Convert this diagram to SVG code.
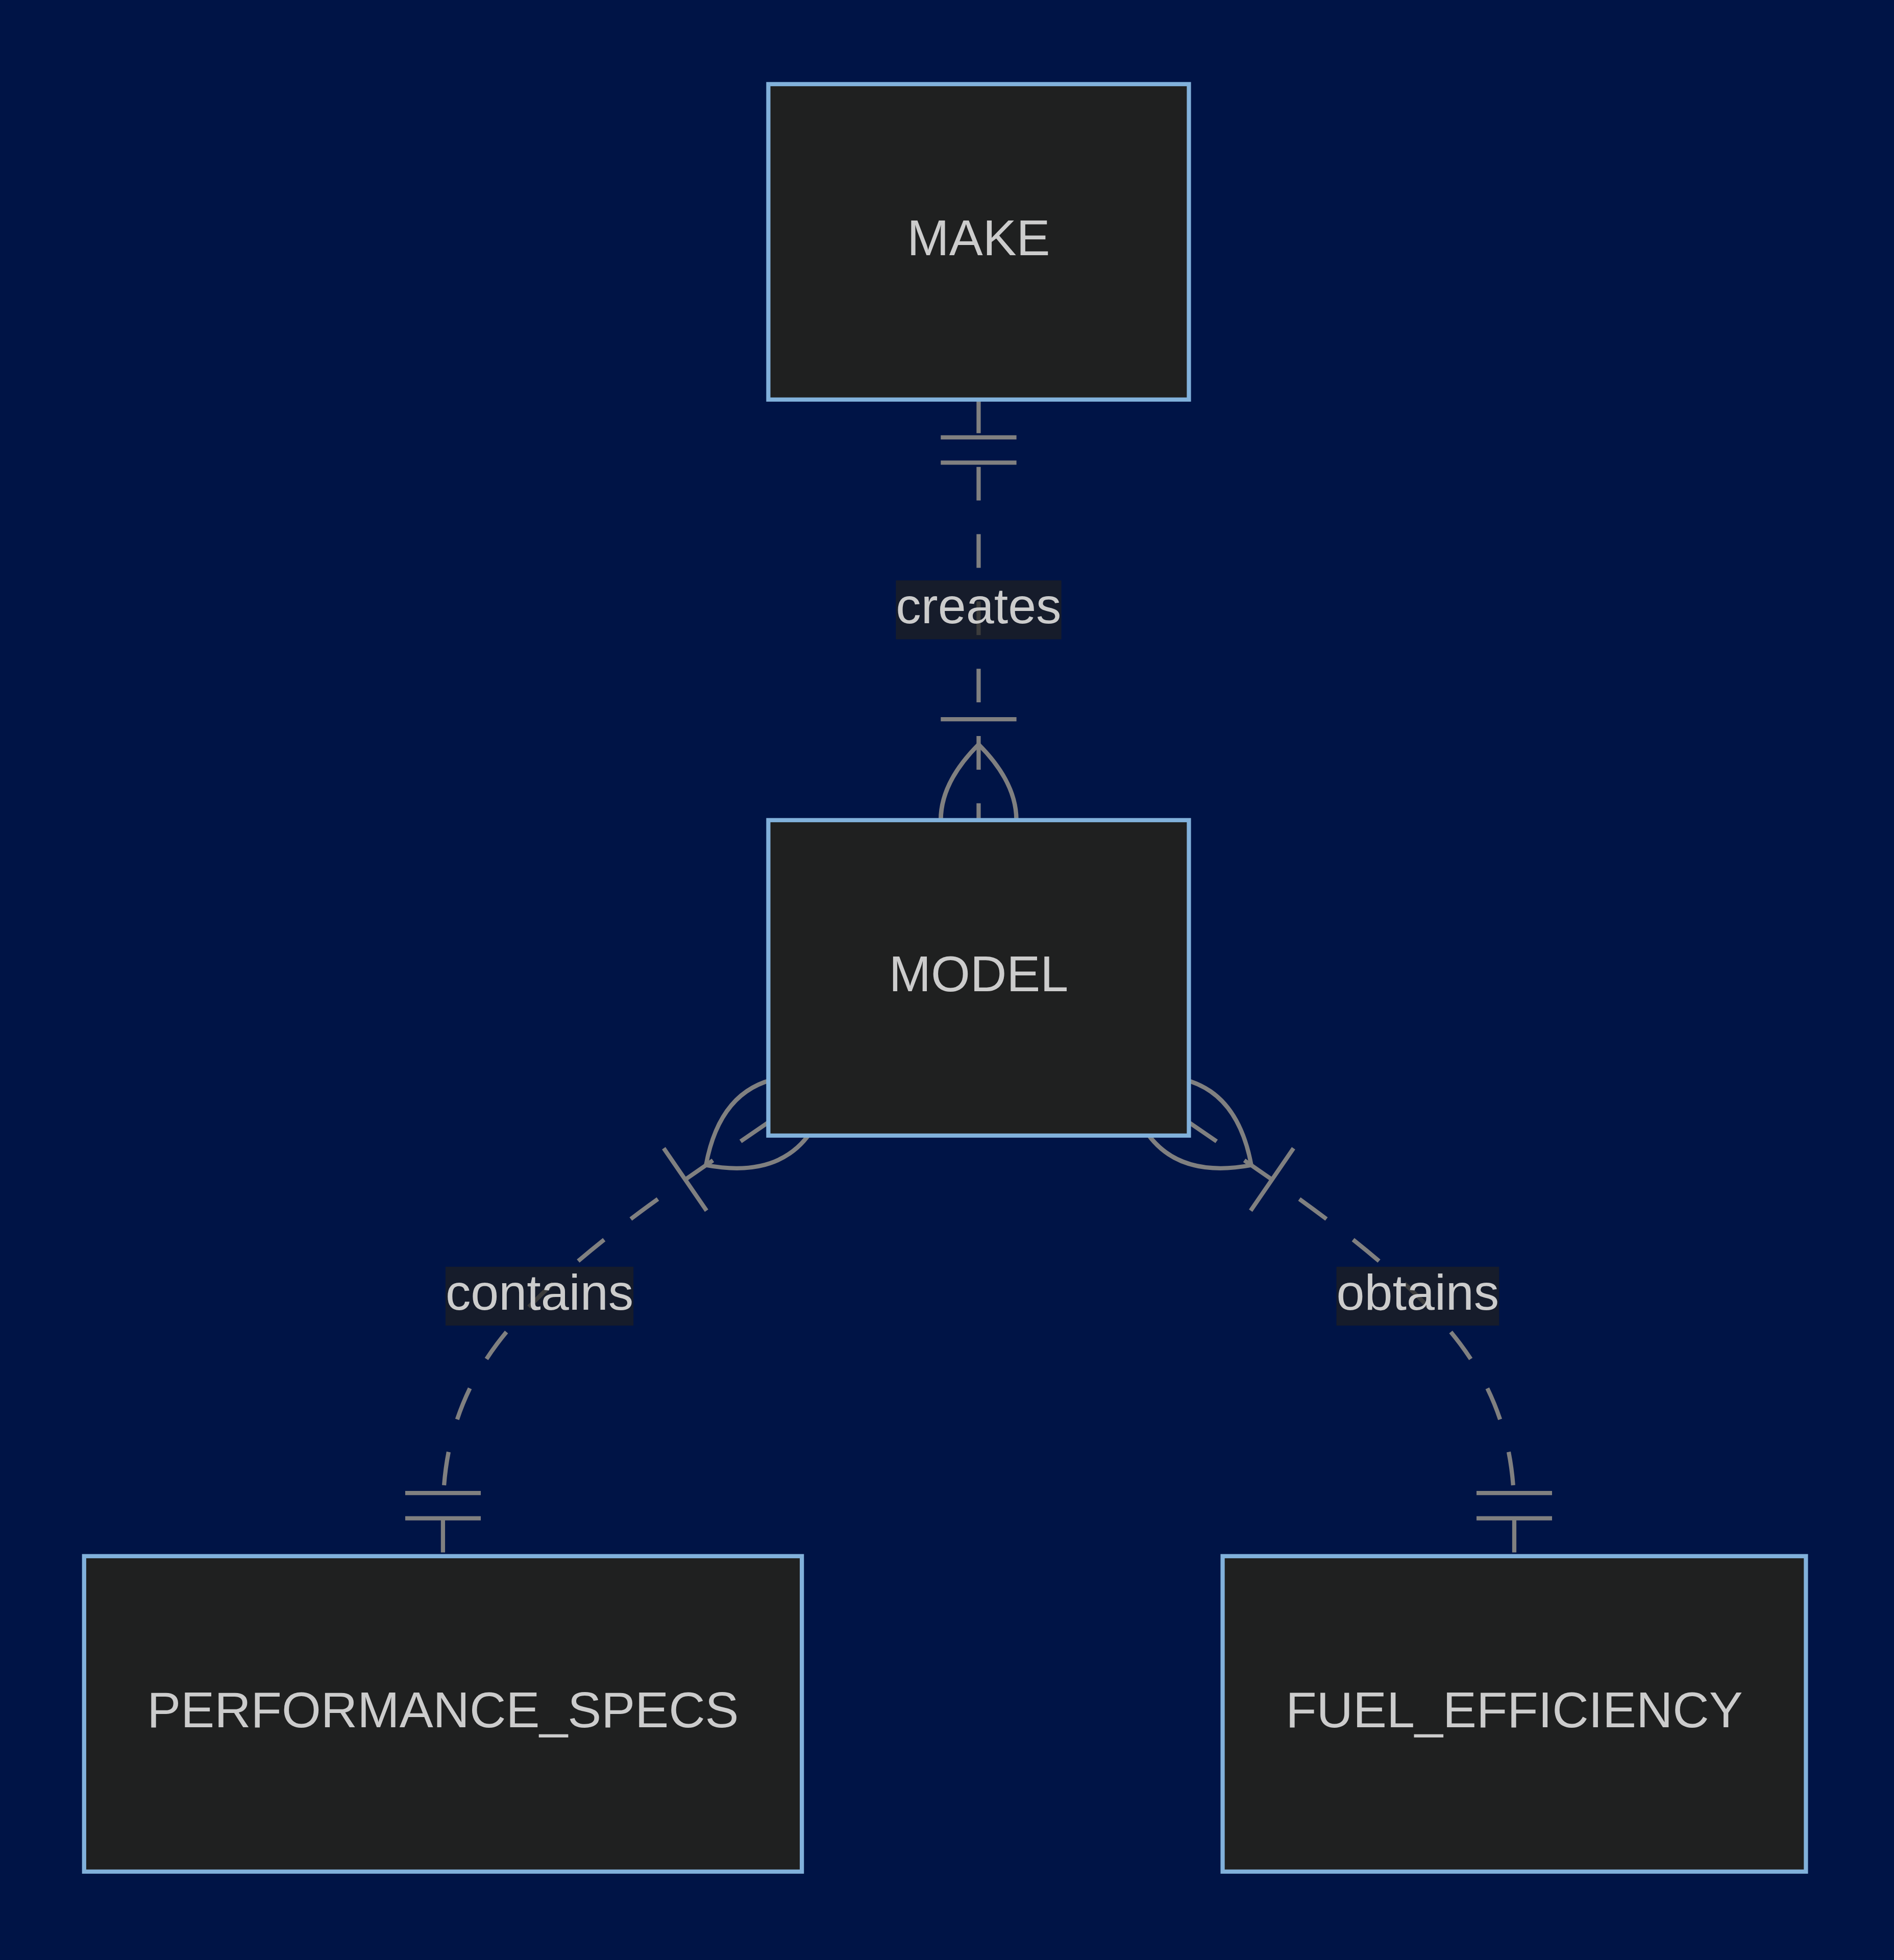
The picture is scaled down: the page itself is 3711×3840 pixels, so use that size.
<svg xmlns="http://www.w3.org/2000/svg" width="3711" height="3840" viewBox="0 0 3711 3840">
<style>
.bg{fill:#001446}
.entity{fill:#1f2020;stroke:#81b1db;stroke-width:1}
.txt{font-family:"Liberation Sans",Arial,Helvetica,sans-serif;font-size:12px;fill:#cccccc;text-anchor:middle}
.rel{fill:none;stroke:#808080;stroke-width:1;stroke-dasharray:8,8}
.mk{fill:none;stroke:#808080;stroke-width:1}
.lblbox{fill:#1f2020;opacity:0.7}
</style>
<defs>
<marker id="onlyOneStart" refX="0" refY="9" markerWidth="18" markerHeight="18" orient="auto">
<path class="mk" d="M9,0 L9,18 M15,0 L15,18"/>
</marker>
<marker id="onlyOneEnd" refX="18" refY="9" markerWidth="18" markerHeight="18" orient="auto">
<path class="mk" d="M3,0 L3,18 M9,0 L9,18"/>
</marker>
<marker id="oneOrMoreStart" refX="18" refY="18" markerWidth="45" markerHeight="36" orient="auto">
<path class="mk" d="M0,18 Q18,0 36,18 Q18,36 0,18 M42,9 L42,27"/>
</marker>
<marker id="oneOrMoreEnd" refX="27" refY="18" markerWidth="45" markerHeight="36" orient="auto">
<path class="mk" d="M3,9 L3,27 M9,18 Q27,0 45,18 Q27,36 9,18"/>
</marker>
</defs>
<rect class="bg" x="0" y="0" width="3711" height="3840"/>
<g transform="scale(8.24)">
<g id="connectors">
<path class="rel" d="M232.7,95 L232.7,195" marker-start="url(#onlyOneStart)" marker-end="url(#oneOrMoreEnd)"/>
<path class="rel" d="M182.7,266.85 L169.8,275.71 C156.91,284.57 131.12,302.28 118.23,319.48 C105.33,336.67 105.33,353.33 105.33,361.67 L105.33,370" marker-start="url(#oneOrMoreStart)" marker-end="url(#onlyOneEnd)"/>
<path class="rel" d="M282.7,266.85 L295.6,275.71 C308.49,284.57 334.28,302.28 347.17,319.48 C360.07,336.67 360.07,353.33 360.07,361.67 L360.07,370" marker-start="url(#oneOrMoreStart)" marker-end="url(#onlyOneEnd)"/>
<g id="label-creates">
<rect class="lblbox" x="213.03" y="138" width="39.35" height="14"/>
<text class="txt" x="232.7" y="148.17">creates</text>
</g>
<g id="label-contains">
<rect class="lblbox" x="105.94" y="301.19" width="44.69" height="14"/>
<text class="txt" x="128.28" y="311.36">contains</text>
</g>
<g id="label-obtains">
<rect class="lblbox" x="317.78" y="301.19" width="38.69" height="14"/>
<text class="txt" x="337.12" y="311.36">obtains</text>
</g>
</g>
<g id="node-MAKE">
<rect class="entity" x="182.7" y="20" width="100" height="75"/>
<text class="txt" x="232.7" y="60.67">MAKE</text>
</g>
<g id="node-MODEL">
<rect class="entity" x="182.7" y="195" width="100" height="75"/>
<text class="txt" x="232.7" y="235.67">MODEL</text>
</g>
<g id="node-PERFORMANCE_SPECS">
<rect class="entity" x="20" y="370" width="170.67" height="75"/>
<text class="txt" x="105.33" y="410.67">PERFORMANCE_SPECS</text>
</g>
<g id="node-FUEL_EFFICIENCY">
<rect class="entity" x="290.72" y="370" width="138.7" height="75"/>
<text class="txt" x="360.07" y="410.67">FUEL_EFFICIENCY</text>
</g>
</g>
</svg>
